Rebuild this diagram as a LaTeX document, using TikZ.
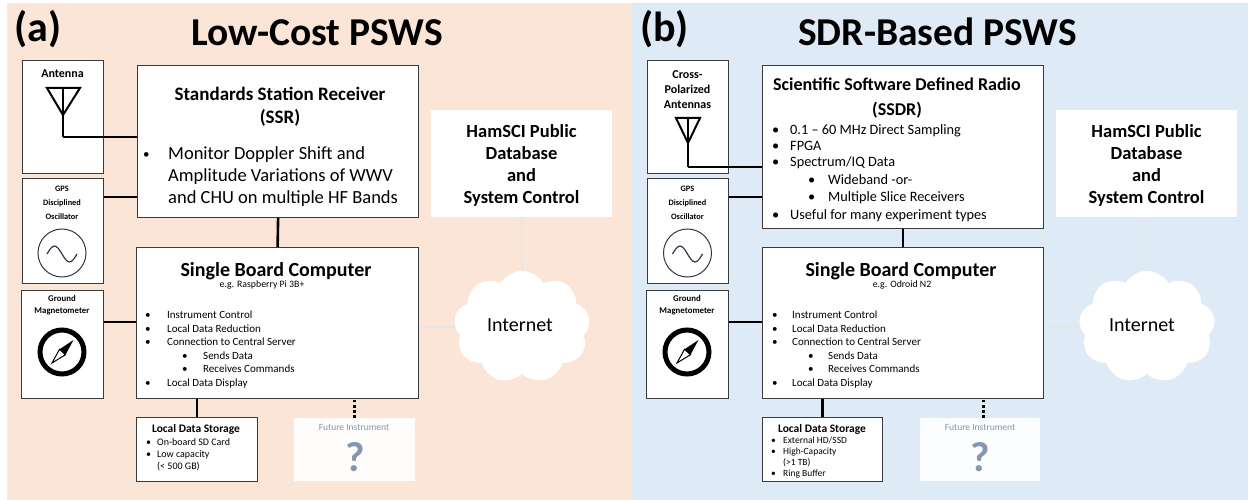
\documentclass[tikz,border=0pt]{standalone}
\usepackage{fontspec}
\setmainfont{Carlito}
\usetikzlibrary{shapes.symbols}
\definecolor{peachbg}{HTML}{FBE5D6}
\definecolor{bluebg}{HTML}{DEEBF7}
\definecolor{futcol}{HTML}{8497B0}
\definecolor{netgray}{HTML}{E6E6E6}
\definecolor{boxline}{HTML}{3A3A3A}
\definecolor{oscline}{HTML}{2F3A45}
\newcommand{\myfs}[1]{\fontsize{#1}{#1}\selectfont}
\begin{document}
\begin{tikzpicture}[x=1pt,y=-1pt,
  box/.style={draw=boxline, line width=1.2pt, fill=white, inner sep=0, anchor=north west},
  futbox/.style={fill=white, fill opacity=0.93, draw=none, inner sep=0, anchor=north west},
  conn/.style={line width=2.6pt, black},
  dotconn/.style={line width=3pt, black, dash pattern=on 2.6pt off 2.6pt},
  netline/.style={line width=1.6pt, netgray},
  txt/.style={inner sep=0, anchor=base west},
  ctxt/.style={inner sep=0, anchor=base},
  antsym/.style={line width=2pt, black, line join=miter},
  netcloud/.style={cloud, cloud puffs=9, cloud puff arc=120, aspect=1.2, fill=white, draw=none, inner sep=0, minimum width=136, minimum height=112},
  labT/.style={font=\myfs{42}\bfseries},
  bigT/.style={font=\myfs{39.5}\bfseries},
  smallhead/.style={font=\myfs{8.3}\bfseries},
  maghead/.style={font=\myfs{8.8}\bfseries},
  sbcT/.style={font=\myfs{20}\bfseries},
  sbcB/.style={font=\myfs{11}},
  hamT/.style={font=\myfs{18.5}\bfseries},
  futT/.style={font=\myfs{9.5}, text=futcol},
  qmark/.style={font=\myfs{42}\bfseries, text=futcol}
]
\useasboundingbox (0,0) rectangle (1248,500);
\fill[white] (0,0) rectangle (1248,500);
\fill[peachbg] (7,3) rectangle (632,500);
\fill[bluebg] (632,3) rectangle (1248,500);

% ===================== PANEL A =====================
\node[txt, labT] (labA) at (14,42) {(a)};
\node[txt, bigT] (titA) at (191,46) {Low-Cost PSWS};

% boxes
\node[box, minimum width=81, minimum height=113] (antA) at (22,60) {};
\node[box, minimum width=281, minimum height=152] (ssrA) at (137,65) {};
\node[box, minimum width=81, minimum height=105] (gpsA) at (22,178) {};
\node[box, minimum width=282, minimum height=151] (sbcA) at (136,247) {};
\node[box, minimum width=82, minimum height=108] (magA) at (21,290) {};
\node[box, minimum width=121, minimum height=64] (stoA) at (136,417) {};
\node[futbox, minimum width=121, minimum height=63] (futA) at (294,418) {};
\node[fill=white, draw=none, inner sep=0, anchor=north west, minimum width=181, minimum height=107] (hamA) at (431,110) {};

% connectors
\coordinate (feedA) at (63,137);
\draw[antsym] (47,88) -- (80,88) -- (63,115) -- cycle;
\draw[antsym] (63,88) -- (feedA);
\draw[conn] (feedA) -- (feedA -| ssrA.west);
\draw[conn] (gpsA.east |- 0,197) -- (ssrA.west |- 0,197);
\draw[conn] (magA.east |- 0,322) -- (sbcA.west |- 0,322);
\draw[conn] (ssrA.south) -- (sbcA.north);
\draw[conn] (stoA.north) -- (stoA.north |- sbcA.south);
\draw[dotconn] (futA.north) -- (futA.north |- sbcA.south);
\node[netcloud] (cloudA) at (522,327) {};
\draw[netline] (hamA.south) -- (cloudA.north);
\draw[netline] (cloudA.west) -- (cloudA.west -| sbcA.east);
\node[netcloud] (cloudA2) at (522,327) {};

% antenna text
\node[ctxt, font=\myfs{12}\bfseries] (antAt) at (62.5,78) {Antenna};

% SSR text
\node[ctxt, font=\myfs{19}\bfseries] (ssrAt1) at (280,101) {Standards Station Receiver};
\node[ctxt, font=\myfs{19}\bfseries] (ssrAt2) at (280,124) {(SSR)};
\node[txt, font=\myfs{13}] (ssrAb1) at (143,159) {•};
\node[txt, font=\myfs{18.5}] (ssrAl1) at (168,160) {Monitor Doppler Shift and};
\node[txt, font=\myfs{18.5}] (ssrAl2) at (168,182) {Amplitude Variations of WWV};
\node[txt, font=\myfs{18.5}] (ssrAl3) at (168,204) {and CHU on multiple HF Bands};

% GPS
\node[ctxt, smallhead] (gpsAt1) at (62,191) {GPS};
\node[ctxt, smallhead] (gpsAt2) at (62,205) {Disciplined};
\node[ctxt, smallhead] (gpsAt3) at (62,219) {Oscillator};
\draw[oscline, line width=1pt] (62,253) circle[radius=24];
\draw[oscline, line width=1.2pt] (47,254) sin (54.5,246) cos (62,254) sin (69.5,262) cos (77,254);

% Magnetometer
\node[ctxt, maghead] (magAt1) at (62,301.5) {Ground};
\node[ctxt, maghead] (magAt2) at (62,313.5) {Magnetometer};
\draw[black, line width=5pt] (62,352) circle[radius=22];
\draw[black, line width=1pt, fill=white, line join=miter] (52,363) -- (65.5,354.7) -- (59.5,349.3) -- cycle;
\fill[black] (73.5,340) -- (65.5,354.7) -- (59.5,349.3) -- cycle;

% SBC text
\node[ctxt, sbcT] (sbcAt) at (276,276) {Single Board Computer};
\node[ctxt, font=\myfs{9.8}] (sbcAe) at (262,287.5) {e.g. Raspberry Pi 3B+};
\node[txt, sbcB] (sbcAb1) at (145,318.5) {•};
\node[txt, sbcB] (sbcAl1) at (167,318.5) {Instrument Control};
\node[txt, sbcB] (sbcAb2) at (145,332) {•};
\node[txt, sbcB] (sbcAl2) at (167,332) {Local Data Reduction};
\node[txt, sbcB] (sbcAb3) at (145,345.5) {•};
\node[txt, sbcB] (sbcAl3) at (167,345.5) {Connection to Central Server};
\node[txt, sbcB] (sbcAb4) at (182,359.5) {•};
\node[txt, sbcB] (sbcAl4) at (203,359.5) {Sends Data};
\node[txt, sbcB] (sbcAb5) at (182,372.5) {•};
\node[txt, sbcB] (sbcAl5) at (203,372.5) {Receives Commands};
\node[txt, sbcB] (sbcAb6) at (145,386.5) {•};
\node[txt, sbcB] (sbcAl6) at (167,386.5) {Local Data Display};

% storage
\node[ctxt, font=\myfs{11.5}\bfseries] (stoAt) at (196,432) {Local Data Storage};
\node[txt, font=\myfs{10}] (stoAb1) at (146,445.5) {•};
\node[txt, font=\myfs{10}] (stoAl1) at (157,445.5) {On-board SD Card};
\node[txt, font=\myfs{10}] (stoAb2) at (146,457) {•};
\node[txt, font=\myfs{10}] (stoAl2) at (157,457) {Low capacity};
\node[txt, font=\myfs{10}] (stoAl3) at (157,469) {(< 500 GB)};

% future
\node[ctxt, futT] (futAt) at (354,430) {Future Instrument};
\node[ctxt, qmark] (futAq) at (355,471) {?};

% HamSCI
\node[ctxt, hamT] (hamAt1) at (521.5,138) {HamSCI Public};
\node[ctxt, hamT] (hamAt2) at (521.5,160) {Database};
\node[ctxt, hamT] (hamAt3) at (521.5,182) {and};
\node[ctxt, hamT] (hamAt4) at (521.5,204) {System Control};
\node[font=\myfs{20}, inner sep=0] (netA) at (520,325) {Internet};

% ===================== PANEL B =====================
\node[txt, labT] (labB) at (640,42) {(b)};
\node[txt, bigT] (titB) at (798,46) {SDR-Based PSWS};

\node[box, minimum width=81, minimum height=113] (antB) at (647,60) {};
\node[box, minimum width=281, minimum height=163] (ssrB) at (762,65) {};
\node[box, minimum width=81, minimum height=105] (gpsB) at (647,178) {};
\node[box, minimum width=281, minimum height=151] (sbcB) at (762,247) {};
\node[box, minimum width=82, minimum height=108] (magB) at (646,290) {};
\node[box, minimum width=120, minimum height=64] (stoB) at (762,417) {};
\node[futbox, minimum width=120, minimum height=63] (futB) at (920,418) {};
\node[fill=white, draw=none, inner sep=0, anchor=north west, minimum width=181, minimum height=107] (hamB) at (1056,110) {};

\coordinate (feedB) at (688,167);
\coordinate (dotB) at (983,418);
\draw[antsym] (676,118) -- (700,118) -- (688,143) -- cycle;
\draw[antsym] (688,118) -- (feedB);
\draw[conn] (feedB) -- (feedB -| ssrB.west);
\draw[conn] (gpsB.east |- 0,197) -- (ssrB.west |- 0,197);
\draw[conn] (magB.east |- 0,322) -- (sbcB.west |- 0,322);
\draw[conn] (ssrB.south) -- (sbcB.north);
\draw[conn] (stoB.north) -- (stoB.north |- sbcB.south);
\draw[dotconn] (dotB) -- (dotB |- sbcB.south);
\node[netcloud] (cloudB) at (1147,327) {};
\draw[netline] (hamB.south) -- (cloudB.north);
\draw[netline] (cloudB.west) -- (cloudB.west -| sbcB.east);
\node[netcloud] (cloudB2) at (1147,327) {};

\node[ctxt, font=\myfs{12}\bfseries] (antBt1) at (687.5,79) {Cross-};
\node[ctxt, font=\myfs{12}\bfseries] (antBt2) at (687.5,94) {Polarized};
\node[ctxt, font=\myfs{12}\bfseries] (antBt3) at (687.5,109) {Antennas};

\node[ctxt, font=\myfs{18}\bfseries] (ssrBt1) at (897,91) {Scientific Software Defined Radio};
\node[ctxt, font=\myfs{18}\bfseries] (ssrBt2) at (897,116) {(SSDR)};
\node[txt, font=\myfs{14.3}] (ssrBb1) at (772,134.5) {•};
\node[txt, font=\myfs{14.3}] (ssrBl1) at (790,134.5) {0.1 – 60 MHz Direct Sampling};
\node[txt, font=\myfs{14.3}] (ssrBb2) at (772,150.5) {•};
\node[txt, font=\myfs{14.3}] (ssrBl2) at (790,150.5) {FPGA};
\node[txt, font=\myfs{14.3}] (ssrBb3) at (772,167) {•};
\node[txt, font=\myfs{14.3}] (ssrBl3) at (790,167) {Spectrum/IQ Data};
\node[txt, font=\myfs{14.3}] (ssrBb4) at (808,184.5) {•};
\node[txt, font=\myfs{14.3}] (ssrBl4) at (828,184.5) {Wideband -or-};
\node[txt, font=\myfs{14.3}] (ssrBb5) at (808,201.5) {•};
\node[txt, font=\myfs{14.3}] (ssrBl5) at (828,201.5) {Multiple Slice Receivers};
\node[txt, font=\myfs{14.3}] (ssrBb6) at (772,219.5) {•};
\node[txt, font=\myfs{14.3}] (ssrBl6) at (790,219.5) {Useful for many experiment types};

\node[ctxt, smallhead] (gpsBt1) at (687.5,191) {GPS};
\node[ctxt, smallhead] (gpsBt2) at (687.5,205) {Disciplined};
\node[ctxt, smallhead] (gpsBt3) at (687.5,219) {Oscillator};
\draw[oscline, line width=1pt] (687.5,253) circle[radius=24];
\draw[oscline, line width=1.2pt] (672.5,254) sin (680,246) cos (687.5,254) sin (695,262) cos (702.5,254);

\node[ctxt, maghead] (magBt1) at (687,301.5) {Ground};
\node[ctxt, maghead] (magBt2) at (687,313.5) {Magnetometer};
\draw[black, line width=5pt] (687,352) circle[radius=22];
\draw[black, line width=1pt, fill=white, line join=miter] (677,363) -- (690.5,354.7) -- (684.5,349.3) -- cycle;
\fill[black] (698.5,340) -- (690.5,354.7) -- (684.5,349.3) -- cycle;

\node[ctxt, sbcT] (sbcBt) at (901,276) {Single Board Computer};
\node[ctxt, font=\myfs{9.8}] (sbcBe) at (902,287.5) {e.g. Odroid N2};
\node[txt, sbcB] (sbcBb1) at (772,318.5) {•};
\node[txt, sbcB] (sbcBl1) at (792,318.5) {Instrument Control};
\node[txt, sbcB] (sbcBb2) at (772,332) {•};
\node[txt, sbcB] (sbcBl2) at (792,332) {Local Data Reduction};
\node[txt, sbcB] (sbcBb3) at (772,345.5) {•};
\node[txt, sbcB] (sbcBl3) at (792,345.5) {Connection to Central Server};
\node[txt, sbcB] (sbcBb4) at (808,359.5) {•};
\node[txt, sbcB] (sbcBl4) at (828,359.5) {Sends Data};
\node[txt, sbcB] (sbcBb5) at (808,372.5) {•};
\node[txt, sbcB] (sbcBl5) at (828,372.5) {Receives Commands};
\node[txt, sbcB] (sbcBb6) at (772,386.5) {•};
\node[txt, sbcB] (sbcBl6) at (792,386.5) {Local Data Display};

\node[ctxt, font=\myfs{11.5}\bfseries] (stoBt) at (822,432) {Local Data Storage};
\node[txt, font=\myfs{9.5}] (stoBb1) at (771,443) {•};
\node[txt, font=\myfs{9.5}] (stoBl1) at (783,443) {External HD/SSD};
\node[txt, font=\myfs{9.5}] (stoBb2) at (771,454) {•};
\node[txt, font=\myfs{9.5}] (stoBl2) at (783,454) {High-Capacity};
\node[txt, font=\myfs{9.5}] (stoBl3) at (783,465) {(>1 TB)};
\node[txt, font=\myfs{9.5}] (stoBb4) at (771,476) {•};
\node[txt, font=\myfs{9.5}] (stoBl4) at (783,476) {Ring Buffer};

\node[ctxt, futT] (futBt) at (980,430) {Future Instrument};
\node[ctxt, qmark] (futBq) at (980,471) {?};

\node[ctxt, hamT] (hamBt1) at (1146.5,138) {HamSCI Public};
\node[ctxt, hamT] (hamBt2) at (1146.5,160) {Database};
\node[ctxt, hamT] (hamBt3) at (1146.5,182) {and};
\node[ctxt, hamT] (hamBt4) at (1146.5,204) {System Control};
\node[font=\myfs{20}, inner sep=0] (netB) at (1142,325) {Internet};
\end{tikzpicture}
\end{document}
